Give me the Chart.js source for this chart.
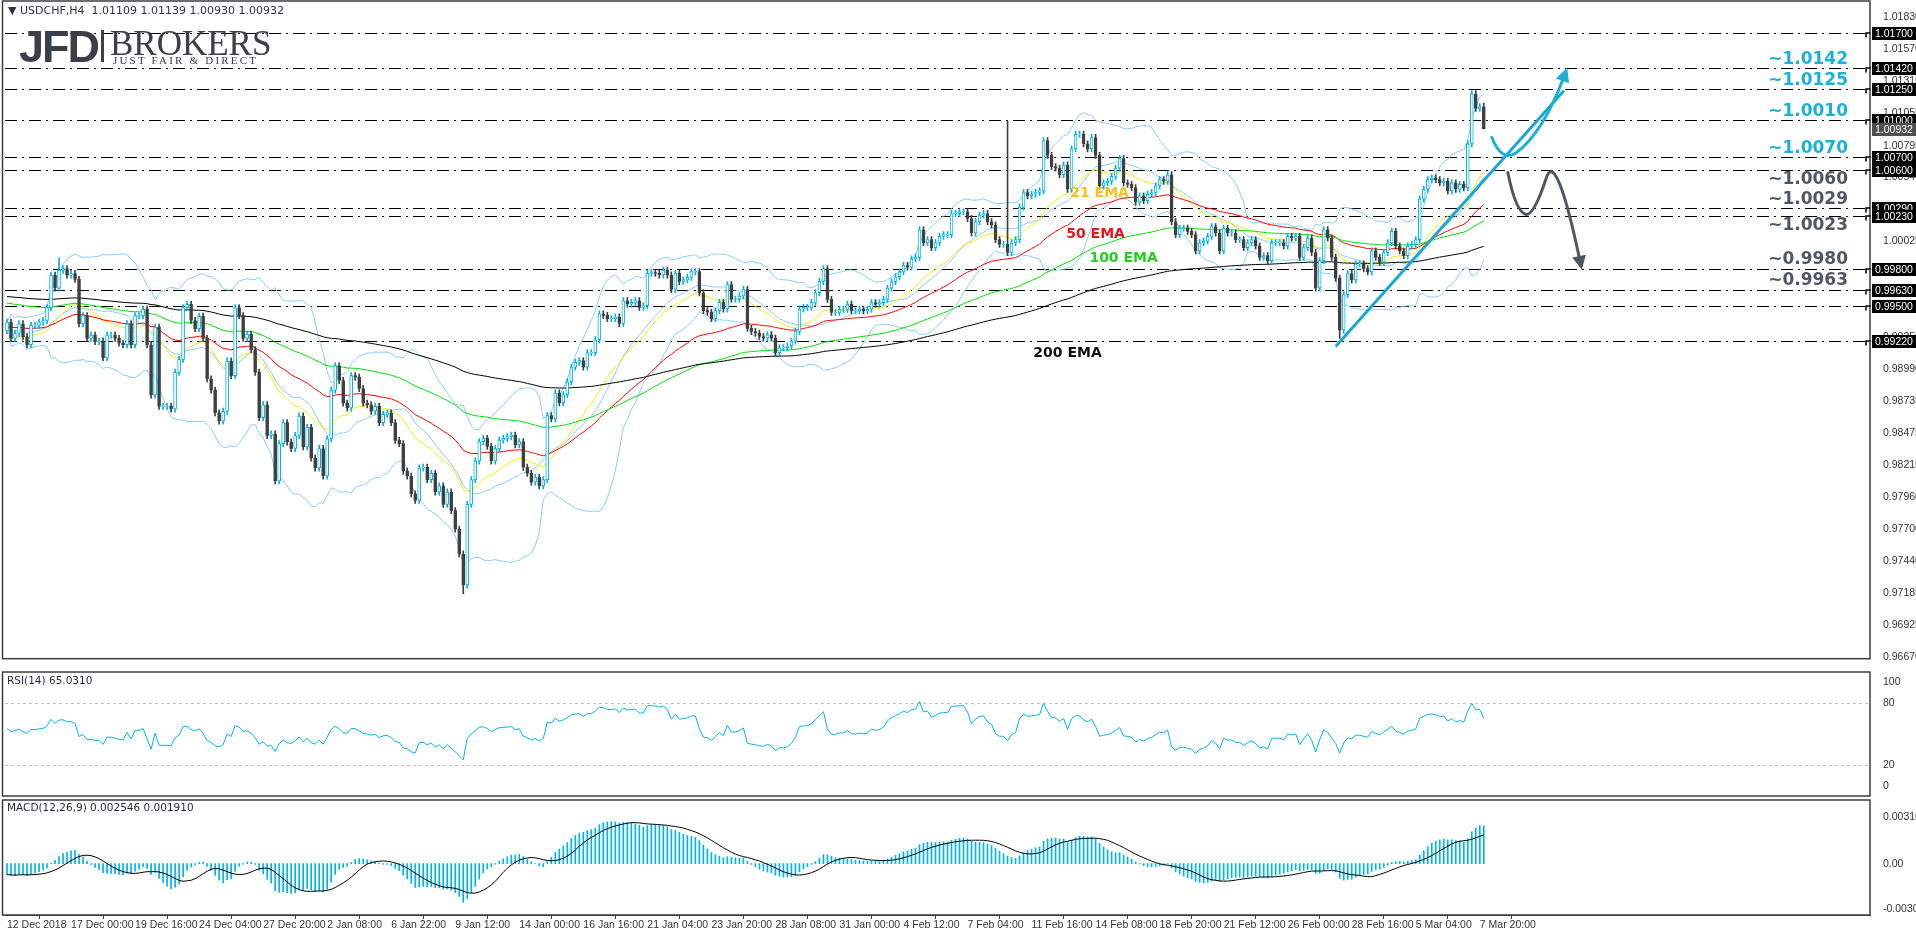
<!DOCTYPE html>
<html><head><meta charset="utf-8">
<script src="https://cdn.jsdelivr.net/npm/chart.js@4/dist/chart.umd.min.js"></script>
<style>
html,body{margin:0;padding:0;background:#fff;width:1916px;height:936px;overflow:hidden;font-family:"DejaVu Sans",sans-serif}
.w{position:absolute;left:0;width:1916px}
.t{position:absolute;white-space:nowrap;color:#1e2a3a}
</style></head><body>
<div class="w" style="top:0;height:670px"><canvas id="cMain" width="1916" height="670"></canvas></div>
<div class="w" style="top:671px;height:126px"><canvas id="cRsi" width="1916" height="126"></canvas></div>
<div class="w" style="top:799px;height:137px"><canvas id="cMacd" width="1916" height="137"></canvas></div>
<div class="t" style="left:8px;top:4px;font-size:11px;color:#2a3548">&#9660; USDCHF,H4&nbsp; 1.01109 1.01139 1.00930 1.00932</div>
<div class="t" style="left:19px;top:21px;font:bold 45px 'Liberation Sans',sans-serif;color:#3a4048;letter-spacing:-2px">JFD</div>
<div style="position:absolute;left:101px;top:30px;width:3px;height:32px;background:#3a4048"></div>
<div class="t" style="left:110px;top:24px;font:35px 'Liberation Serif',serif;color:#3a4048">BROKERS</div>
<div class="t" style="left:113px;top:54px;font:11px 'Liberation Serif',serif;color:#3a4048;letter-spacing:2.2px">JUST FAIR &amp; DIRECT</div>
<div class="t" style="left:7px;top:674px;font-size:10.5px">RSI(14) 65.0310</div>
<div class="t" style="left:7px;top:801px;font-size:10.5px">MACD(12,26,9) 0.002546 0.001910</div>
<script>
// ---------- DATA ----------
const closes = [
.99371,.99240,.99279,.99358,.99253,.99188,.99345,.99345,.99371,.99384,
.99488,.99750,.99645,.99789,.99802,.99750,.99763,.99716,.99358,.99423,
.99240,.99266,.99214,.99219,.99083,.99266,.99266,.99240,.99201,.99188,
.99358,.99188,.99423,.99423,.99475,.99188,.98783,.99331,.98691,.98691,
.98691,.98670,.98966,.99070,.99488,.99514,.99384,.99318,.99418,.99240,
.98913,.98822,.98639,.98573,.98652,.99057,.98939,.99488,.99423,.99240,
.99274,.99149,.98966,.98600,.98704,.98456,.98469,.98090,.98390,.98560,
.98404,.98351,.98456,.98613,.98364,.98521,.98273,.98194,.98351,.98129,
.98430,.98822,.99018,.98900,.98717,.98678,.98939,.98926,.98835,.98717,
.98704,.98652,.98691,.98560,.98626,.98639,.98560,.98417,.98390,.98168,
.98129,.97985,.97933,.98194,
.98200,.98100,.98150,.98000,.98050,.97900,.98000,.97850,.97700,.97500,.97250,.97900,.98100,.98250,
.98407,.98433,.98368,.98250,.98350,.98420,.98433,.98446,.98459,.98381,.98407,
.98200,.98150,.98080,.98120,.98050,.98100,.98616,
.98590,.98799,.98720,.98786,.98890,.99008,.99047,.99060,.99008,.99125,
.99125,.99229,.99438,.99425,.99399,.99399,.99412,.99360,.99543,.99517,
.99530,.99543,.99490,.99503,.99764,.99770,.99764,.99751,.99791,.99751,
.99634,.99764,.99699,.99712,.99733,.99778,.99778,.99608,.99464,.99451,
.99399,.99464,.99530,.99477,.99673,.99556,.99556,.99582,.99634,.99321,
.99295,.99282,.99255,.99242,.99269,.99242,.99125,.99164,.99164,.99178,
.99217,.99295,.99477,.99490,.99490,.99530,.99608,.99699,
.99802,.99554,
.99449,.99449,.99475,.99475,.99515,.99462,.99462,.99475,.99462,.99475,
.99528,.99515,.99528,.99554,.99645,.99698,.99737,.99776,.99828,.99815,
.99881,.99894,1.00116,1.00011,1.00037,.99972,1.00011,1.00064,1.00077,1.00077,
1.00247,1.00247,1.00260,1.00260,1.00207,1.00090,1.00181,1.00234,1.00247,1.00181,
1.00155,1.00037,.99998,.99998,.99933,1.00011,1.00037,1.00299,1.00417,1.00390,
1.00403,1.00417,1.00430,1.00835,1.00717,1.00626,1.00613,1.00560,1.00639,1.00443,
1.00769,1.00887,1.00887,1.00809,1.00769,1.00861,1.00717,1.00469,1.00495,1.00508,
1.00547,1.00613,1.00691,1.00495,1.00482,1.00456,1.00338,1.00390,1.00351,1.00403,
1.00417,1.00469,1.00521,1.00508,1.00560,1.00181,1.00077,1.00129,1.00129,1.00103,
1.00077,.99946,
1.00011,1.00024,1.00063,1.00142,1.00090,.99946,1.00129,1.00090,1.00090,1.00037,
1.00037,.99972,1.00011,1.00037,.99985,.99894,.99907,.99867,1.00011,1.00011,
1.00011,.99985,1.00063,1.00050,1.00063,.99894,.99972,1.00050,.99933,.99645,
.99867,1.00116,1.00050,.99894,.99724,.99305,.99593,.99763,.99711,.99841,
.99841,.99802,.99776,.99946,.99894,.99854,.99933,1.00011,1.00103,.99985,
.99946,.99907,.99985,.99998,1.00037,1.00364,
1.00443,1.00521,1.00534,1.00521,1.00495,1.00508,1.00429,1.00495,1.00443,1.00482,
1.00455,1.00808,1.01214,1.01096,1.01109,1.00932
];
const firstOpen = 0.99300;
const spikeBars  = [13, 114, 250, 333, 366, 369];
const spikeHighs = [0.99890, null, 1.00992, null, 1.01240, 1.01139];
const spikeLows  = [null, 0.97180, null, 0.99240, null, 1.00930];
const emaPeriods = [21, 50, 100, 200];
const emaStart   = [0.99230, 0.99331, 0.99528, 0.99580];
const macdStart  = [0.99370, 0.99450];   // EMA12, EMA26 seeds
const rsiStart   = [0.00100, 0.00085];   // avg gain, avg loss seeds
const levels     = [1.01700, 1.01420, 1.01250, 1.01000, 1.00700, 1.00600, 1.00290, 1.00230, 0.99800, 0.99630, 0.99500, 0.99220];
const lastPrice  = 1.00932;
const priceTicks = [1.01830,1.01570,1.01315,1.01055,1.00795,1.00540,1.00280,1.00025,0.99765,0.99505,0.99250,0.98990,0.98735,0.98475,0.98215,0.97960,0.97700,0.97440,0.97185,0.96925,0.96670];
const rsiTicks   = [100, 80, 20, 0];
const macdTicks  = [0.00316, 0, -0.003077];
const timeTickBars = [0,16,32,48,64,80,96,112,128,144,160,176,192,208,224,240,256,272,288,304,320,336,352,368];
const timeTickLabels = ['12 Dec 2018','17 Dec 00:00','19 Dec 16:00','24 Dec 04:00','27 Dec 20:00','2 Jan 08:00','6 Jan 22:00','9 Jan 12:00','14 Jan 00:00','16 Jan 16:00','21 Jan 04:00','23 Jan 20:00','28 Jan 08:00','31 Jan 00:00','4 Feb 12:00','7 Feb 04:00','11 Feb 16:00','14 Feb 08:00','18 Feb 20:00','21 Feb 12:00','26 Feb 00:00','28 Feb 16:00','5 Mar 04:00','7 Mar 20:00'];
const trendBars   = [332, 389];
const trendPrices = [0.99174, 1.01237];
const levelNotes = [
  {t:'~1.0142',p:1.0142,c:'#1ab0da',up:true},{t:'~1.0125',p:1.0125,c:'#1ab0da',up:true},
  {t:'~1.0010',p:1.0100,c:'#1ab0da',up:true},{t:'~1.0070',p:1.0070,c:'#1ab0da',up:true},
  {t:'~1.0060',p:1.0060,c:'#4f5862',up:false},{t:'~1.0029',p:1.0029,c:'#4f5862',up:true},
  {t:'~1.0023',p:1.0023,c:'#4f5862',up:false},{t:'~0.9980',p:0.9980,c:'#4f5862',up:true},
  {t:'~0.9963',p:0.9963,c:'#4f5862',up:true}];
const emaNotes = [
  {t:'21 EMA',b:273,p:1.00406,c:'#f5c21b'},{t:'50 EMA',b:272,p:1.00076,c:'#e8151b'},
  {t:'100 EMA',b:279,p:0.99888,c:'#22d022'},{t:'200 EMA',b:265,p:0.99120,c:'#111'}];
const upPath   = [[371,1.00861],[373.5,1.00660],[377,1.00735],[384,1.00900],[389.5,1.01394]];
const downPath = [[375,1.00578],[377,1.00260],[379.5,1.00240],[381.5,1.00230],[384.5,1.00524],[387,1.00800],[393.3,0.99825]];

// ---------- DERIVED ----------
const N = closes.length, SLOTS = 466;
const labels = Array.from({length:SLOTS},(_,i)=>i);
const opens = closes.map((c,i)=> i===0 ? firstOpen : closes[i-1]);
const highs = closes.map((c,i)=>Math.max(c,opens[i])+0.00025);
const lows  = closes.map((c,i)=>Math.min(c,opens[i])-0.00025);
spikeBars.forEach((b,k)=>{ if(spikeHighs[k]!=null) highs[b]=spikeHighs[k]; if(spikeLows[k]!=null) lows[b]=spikeLows[k]; });
function ema(arr,n,seed){let e=seed,k=2/(n+1);return arr.map(v=>(e=e+k*(v-e)));}
const emas = emaPeriods.map((n,i)=>ema(closes,n,emaStart[i]));
const bbM=[],bbU=[],bbL=[];
closes.forEach((c,i)=>{const w=closes.slice(Math.max(0,i-19),i+1);const m=w.reduce((a,b)=>a+b,0)/w.length;
  const sd=Math.sqrt(w.reduce((a,b)=>a+(b-m)*(b-m),0)/w.length);bbM.push(m);bbU.push(m+2*sd);bbL.push(m-2*sd);});
let ag=rsiStart[0],al=rsiStart[1];
const rsi = closes.map((c,i)=>{const d=c-opens[i];ag=(ag*13+Math.max(d,0))/14;al=(al*13+Math.max(-d,0))/14;return 100-100/(1+ag/al);});
const e12=ema(closes,12,macdStart[0]), e26=ema(closes,26,macdStart[1]);
const macd = e12.map((v,i)=>v-e26[i]);
const signal = macd.map((v,i)=>{const w=macd.slice(Math.max(0,i-8),i+1);return w.reduce((a,b)=>a+b,0)/w.length;});

const CYAN='#00b4e6', DARK='#404040';
const upBar = i=>closes[i]>=opens[i];
const pad = a=>a.concat(Array(SLOTS-a.length).fill(null));
const trend = Array(SLOTS).fill(null); trendBars.forEach((b,k)=>trend[b]=trendPrices[k]);

const yWidth = s=>{s.width=46;};
const frame = {id:'frame',afterDraw(ch){const a=ch.chartArea,c=ch.ctx;c.save();c.strokeStyle='#3c3c3c';c.lineWidth=1.5;
  c.strokeRect(2.5,1,a.right-2.5,a.bottom-1);c.restore();}};
const common = {responsive:false,maintainAspectRatio:false,animation:false,devicePixelRatio:1,
  plugins:{legend:{display:false},tooltip:{enabled:false}},
  datasets:{bar:{grouped:false},line:{pointRadius:0,borderWidth:1,spanGaps:false}}};
const yTickFont = {family:'Liberation Sans',size:10.5};

// ---------- MAIN ----------
function px(ch,b,p){return [ch.scales.x.getPixelForValue(b),ch.scales.y.getPixelForValue(p)];}
const mainPlugin = {id:'mainDeco',
  beforeDatasetsDraw(ch){const c=ch.ctx,a=ch.chartArea,y=ch.scales.y;c.save();c.strokeStyle='#000';c.lineWidth=1;c.setLineDash([12,5,2,5]);
    levels.forEach(l=>{const yy=Math.round(y.getPixelForValue(l))+0.5;c.beginPath();c.moveTo(a.left,yy);c.lineTo(a.right,yy);c.stroke();});c.restore();},
  afterDraw(ch){const c=ch.ctx,a=ch.chartArea,y=ch.scales.y;c.save();
    function path(pts,col){c.strokeStyle=col;c.fillStyle=col;c.lineWidth=3;c.lineCap='round';c.beginPath();
      const P=pts.map(q=>px(ch,q[0],q[1]));c.moveTo(P[0][0],P[0][1]);
      for(let i=1;i<P.length-1;i+=2){c.quadraticCurveTo(P[i][0],P[i][1],P[i+1][0],P[i+1][1]);}
      c.stroke();const e=P[P.length-1],s=P[P.length-2],ang=Math.atan2(e[1]-s[1],e[0]-s[0]);
      c.beginPath();c.moveTo(e[0]+4*Math.cos(ang),e[1]+4*Math.sin(ang));
      c.lineTo(e[0]-10*Math.cos(ang)+7*Math.sin(ang),e[1]-10*Math.sin(ang)-7*Math.cos(ang));
      c.lineTo(e[0]-10*Math.cos(ang)-7*Math.sin(ang),e[1]-10*Math.sin(ang)+7*Math.cos(ang));c.closePath();c.fill();}
    path(upPath,'#1ab0da');path(downPath,'#4f5862');
    c.font='bold 17px "DejaVu Sans"';c.textAlign='right';c.textBaseline='middle';
    levelNotes.forEach(n=>{c.fillStyle=n.c;c.fillText(n.t,1848,y.getPixelForValue(n.p)+(n.up?-9:10));});
    c.font='bold 14px "DejaVu Sans"';c.textAlign='center';
    emaNotes.forEach(n=>{const p=px(ch,n.b,n.p);c.fillStyle=n.c;c.fillText(n.t,p[0],p[1]);});
    c.font='10.5px "Liberation Sans"';c.textAlign='left';
    levels.concat([lastPrice]).forEach((l,i)=>{const yy=Math.round(y.getPixelForValue(l));const last=i===levels.length;
      c.fillStyle=last?'#505050':'#000';c.fillRect(a.right+2,yy-6,44,13);c.fillStyle='#fff';c.fillText(l.toFixed(5),a.right+5,yy+1);
      if(!last){c.strokeStyle='#000';c.lineWidth=1.5;c.beginPath();c.moveTo(a.right-4,yy+4);c.lineTo(a.right-4,yy);c.lineTo(a.right,yy);c.stroke();}});
    c.restore();}};
new Chart(document.getElementById('cMain'),{type:'bar',
  data:{labels,datasets:[
    {data:pad(closes.map((c,i)=>[opens[i],c===opens[i]?c+0.00003:c])),backgroundColor:closes.map((c,i)=>upBar(i)?'#fff':DARK),
     borderColor:closes.map((c,i)=>upBar(i)?CYAN:DARK),borderWidth:1,borderSkipped:false,barThickness:3,order:0},
    {data:pad(closes.map((c,i)=>[lows[i],highs[i]])),backgroundColor:closes.map((c,i)=>upBar(i)?CYAN:DARK),barThickness:1,order:1},
    {type:'line',data:pad(bbU),borderColor:'#87cefa',order:5},
    {type:'line',data:pad(bbM),borderColor:'#87cefa',order:5},
    {type:'line',data:pad(bbL),borderColor:'#87cefa',order:5},
    {type:'line',data:pad(emas[3]),borderColor:'#000',order:4},
    {type:'line',data:pad(emas[2]),borderColor:'#00e000',order:4},
    {type:'line',data:pad(emas[1]),borderColor:'#ff0000',order:4},
    {type:'line',data:pad(emas[0]),borderColor:'#f0f000',order:4},
    {type:'line',data:trend,borderColor:'#1aa8d6',borderWidth:3,spanGaps:true,order:-1}]},
  options:{...common,layout:{padding:{left:5,top:0,bottom:0,right:0}},
    scales:{x:{display:false,offset:true},
      y:{position:'right',min:0.96655,max:1.01879,afterFit:yWidth,grid:{display:false},border:{display:false},
        afterBuildTicks(s){s.ticks=priceTicks.map(v=>({value:v}));},
        ticks:{font:yTickFont,color:'#333',padding:5,callback:v=>v.toFixed(5)}}}},
  plugins:[frame,mainPlugin]});

// ---------- RSI ----------
const dashLines=(vals)=>({id:'dl',beforeDatasetsDraw(ch){const c=ch.ctx,a=ch.chartArea,y=ch.scales.y;c.save();c.strokeStyle='#c0c0c0';c.setLineDash([3,3]);c.lineWidth=1;
  vals.forEach(v=>{const yy=Math.round(y.getPixelForValue(v))+0.5;c.beginPath();c.moveTo(a.left,yy);c.lineTo(a.right,yy);c.stroke();});c.restore();}});
new Chart(document.getElementById('cRsi'),{type:'line',
  data:{labels,datasets:[{data:pad(rsi),borderColor:CYAN,borderWidth:1,pointRadius:0}]},
  options:{...common,layout:{padding:{left:5,top:7,bottom:8,right:0}},
    scales:{x:{display:false,offset:true},
      y:{position:'right',min:0,max:100,afterFit:yWidth,grid:{display:false},border:{display:false},
        afterBuildTicks(s){s.ticks=rsiTicks.map(v=>({value:v}));},ticks:{font:yTickFont,color:'#333',padding:5}}}},
  plugins:[{id:'fr',afterDraw(ch){const c=ch.ctx;c.save();c.strokeStyle='#3c3c3c';c.lineWidth=1.5;c.strokeRect(2.5,1,1867.5,124);c.restore();}},dashLines([80,20])]});

// ---------- MACD ----------
new Chart(document.getElementById('cMacd'),{type:'bar',
  data:{labels,datasets:[
    {data:pad(macd),backgroundColor:CYAN,barThickness:1,order:1},
    {type:'line',data:pad(signal),borderColor:'#000',borderWidth:1,pointRadius:0,order:0}]},
  options:{...common,layout:{padding:{left:5,top:0,bottom:0,right:0}},
    scales:{x:{offset:true,afterFit(s){s.height=21;},grid:{drawOnChartArea:false,tickLength:4,color:'#333'},border:{color:'#3c3c3c'},
        afterBuildTicks(s){s.ticks=timeTickBars.map(v=>({value:v}));},
        ticks:{autoSkip:false,maxRotation:0,align:'start',padding:0,font:{family:'Liberation Sans',size:10.5},color:'#333',
          callback:(v,i)=>timeTickLabels[i]}},
      y:{position:'right',min:-0.00346,max:0.00359,afterFit:yWidth,grid:{display:false},border:{display:false},
        afterBuildTicks(s){s.ticks=macdTicks.map(v=>({value:v}));},
        ticks:{font:yTickFont,color:'#333',padding:5,callback:v=>v===0?'0.00':String(v)}}}},
  plugins:[frame]});
</script></body></html>
